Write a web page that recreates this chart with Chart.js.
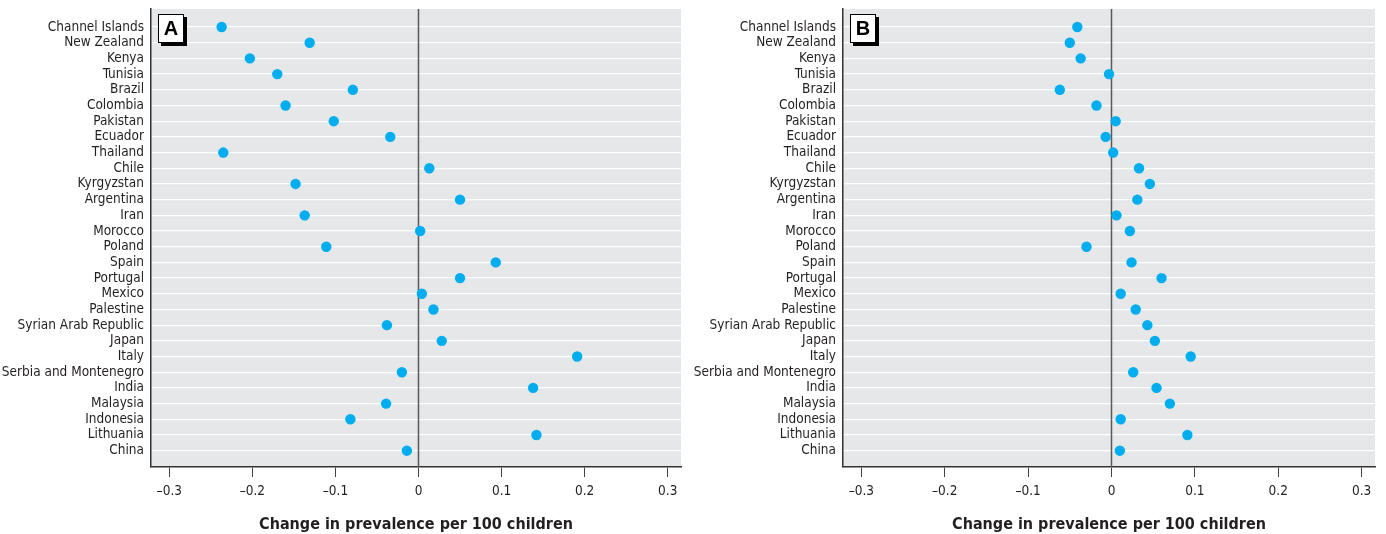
<!DOCTYPE html>
<html>
<head>
<meta charset="utf-8">
<script src="https://cdn.jsdelivr.net/npm/chart.js@4.4.0/dist/chart.umd.min.js"></script>
<style>
  html, body { margin: 0; padding: 0; background: #fff; }
  .panel { position: absolute; top: 0; height: 534px; }
  #wrapA { left: 0; width: 692px; }
  #wrapB { left: 692px; width: 694px; }
</style>
</head>
<body>
<div class="panel" id="wrapA"><canvas id="chartA" width="692" height="534"></canvas></div>
<div class="panel" id="wrapB"><canvas id="chartB" width="694" height="534"></canvas></div>
<script>
var countries = [
    'Channel Islands', 'New Zealand', 'Kenya', 'Tunisia', 'Brazil', 'Colombia',
    'Pakistan', 'Ecuador', 'Thailand', 'Chile', 'Kyrgyzstan', 'Argentina', 'Iran',
    'Morocco', 'Poland', 'Spain', 'Portugal', 'Mexico', 'Palestine',
    'Syrian Arab Republic', 'Japan', 'Italy', 'Serbia and Montenegro', 'India',
    'Malaysia', 'Indonesia', 'Lithuania', 'China'
];

// panel A: change in prevalence per 100 children
var valuesA = [
    -0.237, -0.131, -0.203, -0.170, -0.079, -0.160,
    -0.102, -0.034, -0.235, 0.013, -0.148, 0.050, -0.137,
    0.002, -0.111, 0.093, 0.050, 0.004, 0.018,
    -0.038, 0.028, 0.191, -0.020, 0.138,
    -0.039, -0.082, 0.142, -0.014
];

// panel B
var valuesB = [
    -0.041, -0.050, -0.037, -0.003, -0.062, -0.018,
    0.005, -0.007, 0.002, 0.033, 0.046, 0.031, 0.006,
    0.022, -0.030, 0.024, 0.060, 0.011, 0.029,
    0.043, 0.052, 0.095, 0.026, 0.054,
    0.070, 0.011, 0.091, 0.010
];

var xTicks = [-0.3, -0.2, -0.1, 0, 0.1, 0.2, 0.3];
var axisTitle = 'Change in prevalence per 100 children';

var TEXT = '#231f20';
var FONT = "'DejaVu Sans Condensed', 'DejaVu Sans', sans-serif";

function fmtTick(v) {
    var r = Math.round(v * 10) / 10;
    if (r === 0) return '0';
    return (r < 0 ? '\u2013' : '') + Math.abs(r).toFixed(1);
}

var panelBg = {
    id: 'panelBg',
    beforeDraw: function(chart) {
        var a = chart.chartArea, c = chart.ctx;
        c.save();
        c.fillStyle = '#e6e7e8';
        c.fillRect(a.left, a.top, a.right - a.left, a.bottom - a.top);
        c.restore();
    }
};

// zero reference line, drawn above the white row lines
var zeroLine = {
    id: 'zeroLine',
    beforeDatasetsDraw: function(chart) {
        var a = chart.chartArea, c = chart.ctx;
        var x = chart.scales.x.getPixelForValue(0);
        c.save();
        c.strokeStyle = '#58595b';
        c.lineWidth = 1.5;
        c.beginPath();
        c.moveTo(x, a.top);
        c.lineTo(x, a.bottom);
        c.stroke();
        c.restore();
    }
};

var panelTag = {
    id: 'panelTag',
    afterDraw: function(chart, args, opts) {
        var a = chart.chartArea, c = chart.ctx;
        var x = a.left + 7, y = a.top + 5, w = 26, h = 29;
        c.save();
        c.fillStyle = '#000';
        c.fillRect(x + 3, y + 3, w, h);
        c.fillStyle = '#fff';
        c.fillRect(x, y, w, h);
        c.strokeStyle = '#000';
        c.lineWidth = 1;
        c.strokeRect(x + 0.5, y + 0.5, w - 1, h - 1);
        c.fillStyle = '#000';
        c.font = "bold 20px 'Liberation Sans', sans-serif";
        c.textAlign = 'center';
        c.textBaseline = 'middle';
        c.fillText(opts.text, x + w / 2, y + h / 2 + 1);
        c.restore();
    }
};

function makeDot(id, values, tag) {
    var pts = values.map(function(v, i) { return {x: v, y: i}; });
    return new Chart(document.getElementById(id), {
        type: 'scatter',
        data: {
            datasets: [{
                data: pts,
                backgroundColor: '#00aeef',
                borderWidth: 0,
                pointRadius: 5.2,
                pointHoverRadius: 5.2
            }]
        },
        options: {
            responsive: false,
            animation: false,
            layout: { padding: { top: 9, right: 11, left: 0, bottom: 0 } },
            plugins: {
                legend: { display: false },
                tooltip: { enabled: false },
                panelTag: { text: tag }
            },
            scales: {
                x: {
                    type: 'linear',
                    min: -0.322,
                    max: 0.316,
                    afterFit: function(s) {
                        s.height = 67;
                        s.paddingLeft = 0; s.paddingRight = 0;
                    },
                    afterBuildTicks: function(s) {
                        s.ticks = xTicks.map(function(v) { return {value: v}; });
                    },
                    ticks: {
                        color: TEXT,
                        padding: 6,
                        maxRotation: 0,
                        font: { family: FONT, size: 13.5 },
                        callback: function(v) { return fmtTick(v); }
                    },
                    grid: {
                        drawOnChartArea: false,
                        color: 'rgba(0,0,0,0)',
                        tickColor: '#444',
                        tickLength: 10,
                        tickWidth: 1
                    },
                    border: { display: true, color: '#333', width: 1.5 },
                    title: {
                        display: true,
                        text: axisTitle,
                        color: TEXT,
                        font: { family: FONT, size: 16, weight: 'bold' },
                        padding: { top: 8, bottom: 0 }
                    }
                },
                y: {
                    type: 'linear',
                    reverse: true,
                    min: -1.15,
                    max: 28.04,
                    afterFit: function(s) {
                        s.width = 151;
                        s.paddingTop = 0; s.paddingBottom = 0;
                    },
                    ticks: {
                        stepSize: 1,
                        includeBounds: false,
                        autoSkip: false,
                        color: TEXT,
                        padding: 7,
                        font: { family: FONT, size: 13.5 },
                        callback: function(v) { return countries[v] || ''; }
                    },
                    grid: {
                        drawTicks: false,
                        color: function(ctx) {
                            var v = ctx.tick ? ctx.tick.value : -1;
                            return (v >= 0 && v < countries.length) ? '#ffffff' : 'rgba(0,0,0,0)';
                        },
                        lineWidth: 1.3
                    },
                    border: { display: true, color: '#333', width: 1.5 }
                }
            }
        },
        plugins: [panelBg, zeroLine, panelTag]
    });
}

makeDot('chartA', valuesA, 'A');
makeDot('chartB', valuesB, 'B');
</script>
</body>
</html>
